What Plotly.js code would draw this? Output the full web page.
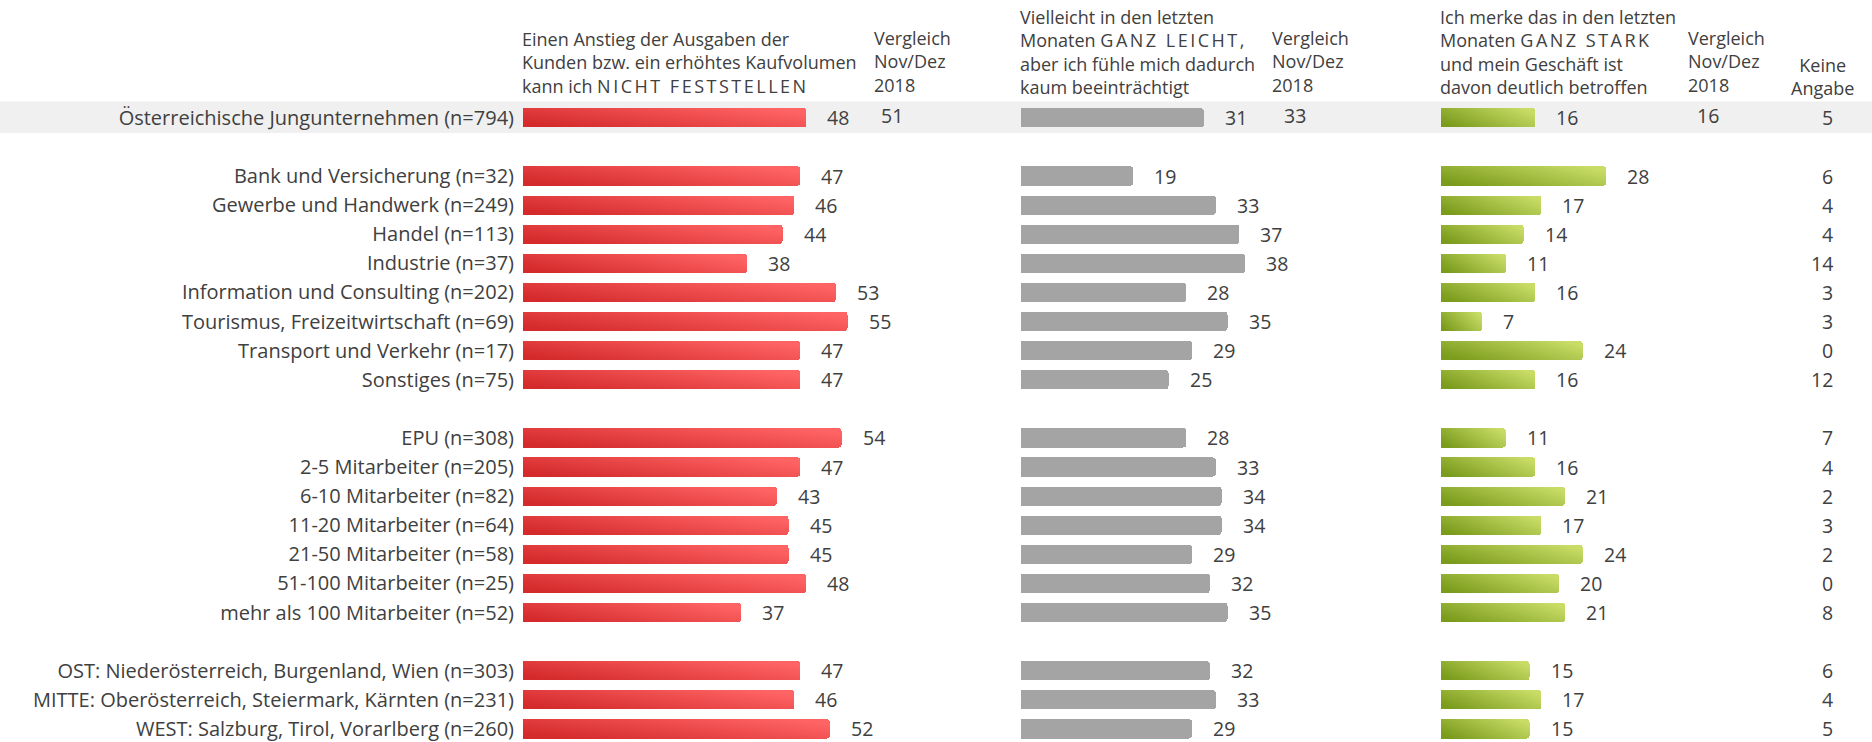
<!DOCTYPE html>
<html>
<head>
<meta charset="utf-8">
<script src="https://cdn.plot.ly/plotly-3.0.1.min.js"></script>
<style>
  html, body { margin: 0; padding: 0; background: #ffffff; }
  #chart { width: 1872px; height: 742px; }
</style>
</head>
<body>
<div id="chart"></div>
<script>
// ---------------- DATA ----------------
const rowLabels = [
  "Österreichische Jungunternehmen (n=794)",
  "Bank und Versicherung (n=32)",
  "Gewerbe und Handwerk (n=249)",
  "Handel (n=113)",
  "Industrie (n=37)",
  "Information und Consulting (n=202)",
  "Tourismus, Freizeitwirtschaft (n=69)",
  "Transport und Verkehr (n=17)",
  "Sonstiges (n=75)",
  "EPU (n=308)",
  "2-5 Mitarbeiter (n=205)",
  "6-10 Mitarbeiter (n=82)",
  "11-20 Mitarbeiter (n=64)",
  "21-50 Mitarbeiter (n=58)",
  "51-100 Mitarbeiter (n=25)",
  "mehr als 100 Mitarbeiter (n=52)",
  "OST: Niederösterreich, Burgenland, Wien (n=303)",
  "MITTE: Oberösterreich, Steiermark, Kärnten (n=231)",
  "WEST: Salzburg, Tirol, Vorarlberg (n=260)"
];
const groupSizes = [1, 8, 7, 3];

const nichtFeststellen = [48, 47, 46, 44, 38, 53, 55, 47, 47, 54, 47, 43, 45, 45, 48, 37, 47, 46, 52];
const ganzLeicht       = [31, 19, 33, 37, 38, 28, 35, 29, 25, 28, 33, 34, 34, 29, 32, 35, 32, 33, 29];
const ganzStark        = [16, 28, 17, 14, 11, 16,  7, 24, 16, 11, 16, 21, 17, 24, 20, 21, 15, 17, 15];
const keineAngabe      = [ 5,  6,  4,  4, 14,  3,  3,  0, 12,  7,  4,  2,  3,  2,  0,  8,  6,  4,  5];

// Vergleich Nov/Dez 2018 (only total row)
const vergleich2018 = [51, 33, 16];

const headerNicht = "Einen Anstieg der Ausgaben der<br>Kunden bzw. ein erhöhtes Kaufvolumen<br>kann ich <span style='letter-spacing:2.5px'>NICHT FESTSTELLEN</span>";
const headerLeicht = "Vielleicht in den letzten<br>Monaten <span style='letter-spacing:2.5px'>GANZ LEICHT</span>,<br>aber ich fühle mich dadurch<br>kaum beeinträchtigt";
const headerStark = "Ich merke das in den letzten<br>Monaten <span style='letter-spacing:2.5px'>GANZ STARK</span><br>und mein Geschäft ist<br>davon deutlich betroffen";
const headerVergleich = "Vergleich<br>Nov/Dez<br>2018";
const headerKeine = "Keine<br>Angabe";

// ---------------- LAYOUT HELPERS ----------------
const W = 1872, H = 742;
const px = v => v / W;
const py = v => 1 - v / H;

// row positions: one blank row between groups
const rowY = [];
(function () {
  let idx = 0, gap = 0;
  groupSizes.forEach(n => {
    for (let k = 0; k < n; k++) { rowY.push(idx + gap); idx++; }
    gap++;
  });
})();

const FONT = "'Segoe UI', 'Open Sans', 'Noto Sans', sans-serif";
const TXT = "#404040";
const FS_HEAD = 18;
const FS_LABEL = 20;
const FS_VAL = 19.5;
const unit = 5.9; // px per percentage point
const redStart = 523, greyStart = 1021, greenStart = 1441;
const redMax = 60, greyMax = 40, greenMax = 40;

const barWidth = 0.66;

const traces = [
  { type: "bar", orientation: "h", x: nichtFeststellen, y: rowY, xaxis: "x", yaxis: "y",
    width: barWidth, marker: { color: "#e84848", cornerradius: 3 }, hoverinfo: "none" },
  { type: "bar", orientation: "h", x: ganzLeicht, y: rowY, xaxis: "x2", yaxis: "y",
    width: barWidth, marker: { color: "#a4a4a4", cornerradius: 3 }, hoverinfo: "none" },
  { type: "bar", orientation: "h", x: ganzStark, y: rowY, xaxis: "x3", yaxis: "y",
    width: barWidth, marker: { color: "#a2bd42", cornerradius: 3 }, hoverinfo: "none" }
];

const annotations = [];
const valFont = { family: FONT, size: FS_VAL, color: TXT };
function addValues(vals, xref) {
  vals.forEach((v, i) => {
    annotations.push({ x: v, y: rowY[i], xref: xref, yref: "y", text: String(v),
      showarrow: false, xanchor: "left", yanchor: "middle", xshift: 19, font: valFont });
  });
}
addValues(nichtFeststellen, "x");
addValues(ganzLeicht, "x2");
addValues(ganzStark, "x3");

keineAngabe.forEach((v, i) => {
  annotations.push({ x: px(1835), y: rowY[i], xref: "paper", yref: "y", text: String(v),
    showarrow: false, xanchor: "right", yanchor: "middle", font: valFont });
});

const vergleichX = [892, 1295, 1708];
vergleich2018.forEach((v, i) => {
  annotations.push({ x: px(vergleichX[i]), y: rowY[0], xref: "paper", yref: "y", text: String(v),
    showarrow: false, xanchor: "center", yanchor: "middle", yshift: 2, font: valFont });
});

function header(text, xPix, yCenter, align, xanchor) {
  annotations.push({ x: px(xPix), y: py(yCenter), xref: "paper", yref: "paper", text: text,
    showarrow: false, xanchor: xanchor || "left", yanchor: "middle", align: align || "left",
    font: { family: FONT, size: FS_HEAD, color: TXT } });
}
header(headerNicht, redStart - 3, 63);
header(headerVergleich, 872, 61);
header(headerLeicht, greyStart - 3, 52);
header(headerVergleich, 1270, 61);
header(headerStark, greenStart - 3, 52);
header(headerVergleich, 1686, 61);
header(headerKeine, 1822, 76, "center", "center");

const rowSpacing = 29.1;
const y0px = 117.8;
const yTop = -y0px / rowSpacing;
const yBottom = yTop + H / rowSpacing;

const hiddenX = { showgrid: false, zeroline: false, showticklabels: false, ticks: "", showline: false, fixedrange: true };

const layout = {
  width: W, height: H,
  margin: { l: 0, r: 0, t: 0, b: 0, pad: 0 },
  paper_bgcolor: "#ffffff", plot_bgcolor: "rgba(0,0,0,0)",
  showlegend: false,
  font: { family: FONT, size: FS_LABEL, color: TXT },
  xaxis:  Object.assign({ domain: [px(redStart),   px(redStart + unit * redMax)],     range: [0, redMax],   anchor: "y" }, hiddenX),
  xaxis2: Object.assign({ domain: [px(greyStart),  px(greyStart + unit * greyMax)],   range: [0, greyMax],  anchor: "y" }, hiddenX),
  xaxis3: Object.assign({ domain: [px(greenStart), px(greenStart + unit * greenMax)], range: [0, greenMax], anchor: "y" }, hiddenX),
  yaxis: {
    anchor: "x", range: [yBottom, yTop], autorange: false,
    tickmode: "array", tickvals: rowY, ticktext: rowLabels,
    ticks: "", showgrid: false, zeroline: false, showline: false,
    ticklabelstandoff: 8, ticklabeloverflow: "allow",
    tickfont: { family: FONT, size: FS_LABEL, color: TXT }, fixedrange: true
  },
  shapes: [{
    type: "rect", xref: "paper", yref: "y", x0: 0, x1: 1, y0: rowY[0] - 0.56, y1: rowY[0] + 0.52,
    fillcolor: "#f0f0f0", line: { width: 0 }, layer: "below"
  }],
  annotations: annotations,
  bargap: 0
};

Plotly.newPlot("chart", traces, layout, { staticPlot: true, displayModeBar: false }).then(function (gd) {
  // horizontal gradients per bar, like the original
  const svgNS = "http://www.w3.org/2000/svg";
  const svg = gd.querySelector("svg.main-svg");
  let defs = svg.querySelector("defs");
  if (!defs) { defs = document.createElementNS(svgNS, "defs"); svg.insertBefore(defs, svg.firstChild); }
  function grad(id, c1, c2) {
    const lg = document.createElementNS(svgNS, "linearGradient");
    lg.setAttribute("id", id);
    lg.setAttribute("x1", "0"); lg.setAttribute("y1", "0.75");
    lg.setAttribute("x2", "1"); lg.setAttribute("y2", "0.25");
    [[0, c1], [1, c2]].forEach(function (s) {
      const st = document.createElementNS(svgNS, "stop");
      st.setAttribute("offset", s[0]); st.setAttribute("stop-color", s[1]);
      lg.appendChild(st);
    });
    defs.appendChild(lg);
  }
  grad("gRed", "#d42a2c", "#ff6464");
  grad("gGreen", "#7a9b1c", "#c8dc66");
  const fills = ["url(#gRed)", null, "url(#gGreen)"];
  const traceGroups = gd.querySelectorAll(".barlayer .trace");
  traceGroups.forEach(function (g, i) {
    if (!fills[i]) return;
    g.querySelectorAll("path").forEach(function (p) { p.style.fill = fills[i]; });
  });
});
</script>
</body>
</html>
